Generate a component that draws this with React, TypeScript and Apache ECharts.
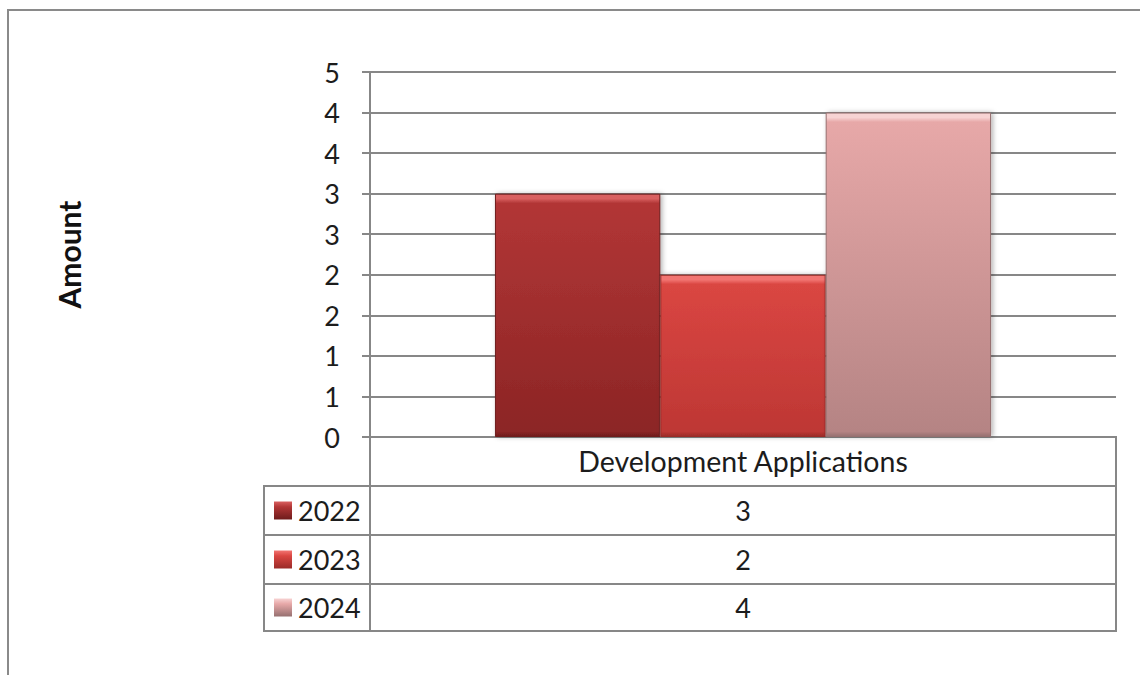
import React, { useEffect, useRef } from "react";
import * as echarts from "echarts";

const categories = ["Development Applications"];
const seriesNames = ["2022", "2023", "2024"];
const values2022 = [3];
const values2023 = [2];
const values2024 = [4];
const yMin = 0;
const yMax = 4.5;
const yInterval = 0.5;
const yTitle = "Amount";

const FONT = "Lato, 'Open Sans', sans-serif";
const GRID_LEFT = 370;
const GRID_RIGHT_X = 1116;
const GRID_TOP = 72;
const GRID_BOTTOM_Y = 437;
const LINE = "#878787";
const TEXT = "#1c1c1c";

// colours: [highlight, top, bottom, bottomEdge]
const palettes = [
  ["#D96060", "#B23636", "#8C2525", "#6E1C1C"],
  ["#F27572", "#DA4642", "#BE3734", "#9A2B28"],
  ["#F7D3D3", "#E7A8A8", "#B58484", "#967070"],
];

function barGradient(pal: string[], value: number) {
  const pxPerUnit = (GRID_BOTTOM_Y - GRID_TOP) / (yMax - yMin);
  const h = Math.max(1, value * pxPerUnit);
  const top = 9 / h;
  const bot = 5 / h;
  return new echarts.graphic.LinearGradient(0, 0, 0, 1, [
    { offset: 0, color: pal[0] },
    { offset: top * 0.5, color: pal[0] },
    { offset: top, color: pal[1] },
    { offset: 1 - bot, color: pal[2] },
    { offset: 1, color: pal[3] },
  ]);
}

export default function App() {
  const ref = useRef<HTMLDivElement>(null);
  useEffect(() => {
    if (!ref.current) return;
    const chart = echarts.init(ref.current, undefined, { renderer: "svg" });
    const allValues = [values2022, values2023, values2024];

    const rowTops = [486, 535, 584];
    const rowBottom = 631;
    const tableLeft = 264;
    const centerX = (GRID_LEFT + GRID_RIGHT_X) / 2;

    const graphic: any[] = [
      {
        type: "rect",
        shape: { x: 8, y: 10, width: 1300, height: 800 },
        style: { fill: "none", stroke: "#8a8a8a", lineWidth: 2 },
        silent: true,
        z: 100,
      },
      { type: "line", shape: { x1: GRID_LEFT, y1: GRID_BOTTOM_Y, x2: GRID_LEFT, y2: rowBottom }, style: { stroke: LINE, lineWidth: 2 }, z: 100 },
      { type: "line", shape: { x1: GRID_RIGHT_X, y1: GRID_BOTTOM_Y - 1, x2: GRID_RIGHT_X, y2: rowBottom }, style: { stroke: LINE, lineWidth: 2 }, z: 100 },
      { type: "line", shape: { x1: tableLeft, y1: rowTops[0], x2: tableLeft, y2: rowBottom }, style: { stroke: LINE, lineWidth: 2 }, z: 100 },
      ...[...rowTops, rowBottom].map((y) => ({
        type: "line",
        shape: { x1: tableLeft - 1, y1: y, x2: GRID_RIGHT_X + 1, y2: y },
        style: { stroke: LINE, lineWidth: 2 },
        z: 100,
      })),
    ];

    seriesNames.forEach((name, i) => {
      const top = rowTops[i];
      const bottom = i + 1 < rowTops.length ? rowTops[i + 1] : rowBottom;
      const cy = (top + bottom) / 2;
      const pal = palettes[i];
      graphic.push({
        type: "rect",
        shape: { x: 274, y: cy - 9, width: 18, height: 18 },
        style: {
          fill: new echarts.graphic.LinearGradient(0, 0, 0, 1, [
            { offset: 0, color: pal[0] },
            { offset: 0.3, color: pal[1] },
            { offset: 1, color: pal[3] },
          ]),
        },
        z: 101,
      });
      graphic.push({
        type: "text",
        x: 298,
        y: cy,
        style: { text: name, font: `27px ${FONT}`, fill: TEXT, textVerticalAlign: "middle", verticalAlign: "middle" },
        z: 101,
      });
      graphic.push({
        type: "text",
        x: centerX,
        y: cy,
        style: {
          text: String(allValues[i][0]),
          font: `27px ${FONT}`,
          fill: TEXT,
          align: "center",
          textAlign: "center",
          verticalAlign: "middle",
          textVerticalAlign: "middle",
        },
        z: 101,
      });
    });

    chart.setOption({
      animation: false,
      backgroundColor: "#ffffff",
      grid: {
        left: GRID_LEFT,
        right: 1140 - GRID_RIGHT_X,
        top: GRID_TOP,
        bottom: 675 - GRID_BOTTOM_Y,
        containLabel: false,
      },
      xAxis: {
        type: "category",
        data: categories,
        axisLine: { show: true, lineStyle: { color: LINE, width: 2 } },
        axisTick: { show: false },
        axisLabel: {
          fontSize: 28.5,
          fontFamily: FONT,
          color: TEXT,
          margin: 24,
          verticalAlign: "middle",
        },
        splitLine: { show: false },
      },
      yAxis: {
        type: "value",
        min: yMin,
        max: yMax,
        interval: yInterval,
        name: yTitle,
        nameLocation: "middle",
        nameGap: 286,
        nameRotate: 90,
        nameTextStyle: { fontSize: 30, fontWeight: "bold", fontFamily: FONT, color: "#111" },
        axisLine: { show: true, lineStyle: { color: LINE, width: 2 } },
        axisTick: { show: true, length: 8, lineStyle: { color: LINE, width: 2 } },
        axisLabel: {
          fontSize: 27,
          fontFamily: FONT,
          color: TEXT,
          margin: 30,
          formatter: (v: number) => String(Math.round(v)),
        },
        splitLine: { show: true, lineStyle: { color: LINE, width: 2 } },
      },
      series: seriesNames.map((name, i) => ({
        name,
        type: "bar",
        barGap: "0%",
        barCategoryGap: "33.5%",
        data: allValues[i].map((v) => ({
          value: v,
          itemStyle: {
            color: barGradient(palettes[i], v),
            borderColor: palettes[i][3],
            borderWidth: 1,
            shadowColor: "rgba(0,0,0,0.3)",
            shadowBlur: 5,
            shadowOffsetX: 2,
            shadowOffsetY: 0,
          },
        })),
      })),
      graphic,
    });
    return () => chart.dispose();
  }, []);
  return (
    <div
      ref={ref}
      style={{ position: "fixed", left: 0, top: 0, width: 1140, height: 675, background: "#fff" }}
    />
  );
}
